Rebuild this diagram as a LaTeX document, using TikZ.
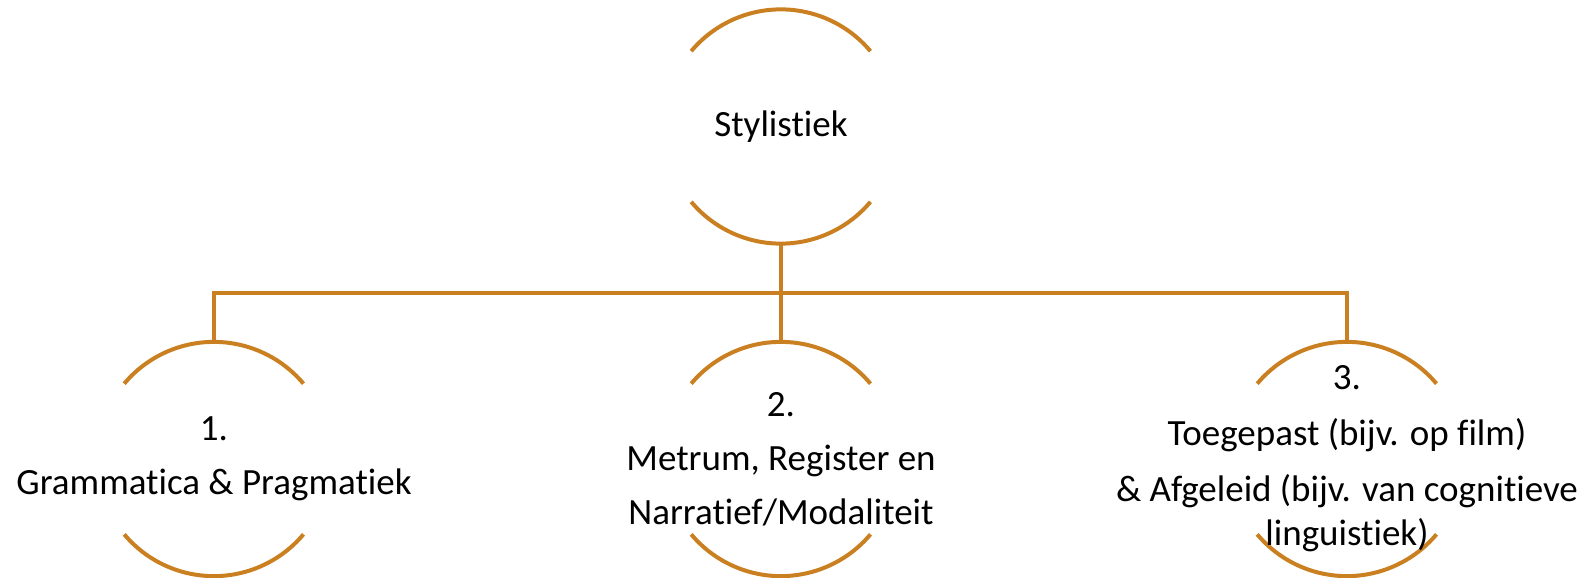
\documentclass[tikz,border=0pt]{standalone}
\usepackage{fontspec}
\setmainfont{Carlito}[Ligatures=NoCommon]
\definecolor{gold}{RGB}{202,128,32}
\begin{document}
\begin{tikzpicture}[x=1pt,y=-1pt,
  ring/.style={circle,minimum size=234pt,inner sep=0pt},
  arcline/.style={draw=gold,line width=4pt},
  conn/.style={draw=gold,line width=4pt},
  txt/.style={align=center,inner sep=0pt,font=\fontsize{37}{44}\selectfont,text=black}]
\useasboundingbox (0,0) rectangle (1587,578);
% circles (only top and bottom arcs drawn)
\node[ring] (top) at (781,126.5) {};
\node[ring] (c1) at (214,459) {};
\node[ring] (c2) at (781,459) {};
\node[ring] (c3) at (1347,459) {};
\foreach \n in {top,c1,c2,c3}{
  \draw[arcline] (\n.140) arc[start angle=140,end angle=40,radius=117pt];
  \draw[arcline] (\n.220) arc[start angle=220,end angle=320,radius=117pt];
}
% texts
\node[txt] (ttop) at (top) {Stylistiek};
\node[txt] (t1) at (c1) {1.\\[10pt]Grammatica \& Pragmatiek};
\node[txt] (t2) at (c2) {2.\\[10pt]Metrum, Register en\\[10pt]Narratief/Modaliteit};
\node[txt] (t3) at (c3) {3.\\[12pt]Toegepast (bijv. op film)\\[12pt]\& Afgeleid (bijv. van cognitieve\\linguistiek)};
% connectors
\coordinate (bus) at (781,293);
\draw[conn] (top.south) -- (c2.north);
\draw[conn,line join=miter] (c1.north) -- (c1.north |- bus) -- (c3.north |- bus) -- (c3.north);
\end{tikzpicture}
\end{document}
